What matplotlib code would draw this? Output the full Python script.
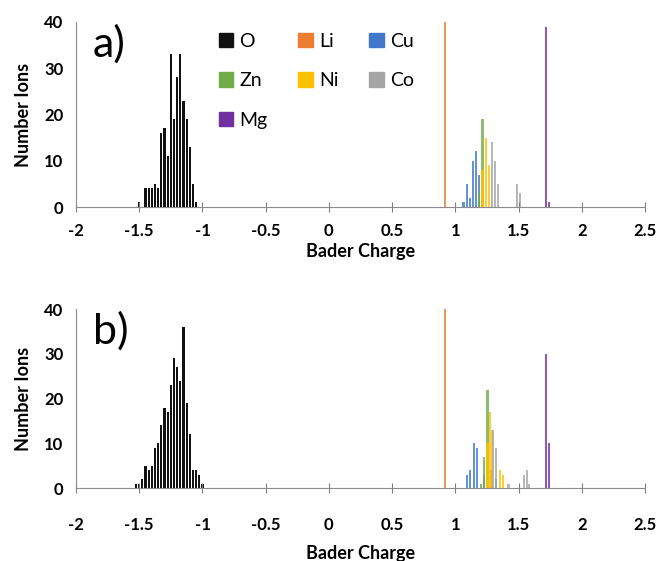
import matplotlib
matplotlib.use("Agg")
import matplotlib.pyplot as plt
from matplotlib.patches import Patch

plt.rcParams['font.family'] = ['Lato', 'DejaVu Sans']

colors = {
    'O': '#111111', 'Li': '#ED7D31', 'Cu': '#3F78CC', 'Zn': '#70AD47',
    'Ni': '#FFC000', 'Co': '#A5A5A5', 'Mg': '#7030A0',
}

# (a) Bader charge histograms, bin centre -> number of ions
a_O_x = [-1.5, -1.45, -1.425, -1.4, -1.375, -1.35, -1.325, -1.3, -1.275, -1.25,
         -1.225, -1.2, -1.175, -1.15, -1.125, -1.1, -1.075, -1.05]
a_O_n = [1, 4, 4, 4, 5, 4, 16, 17, 11, 33, 19, 28, 33, 23, 19, 13, 5, 1]
a_Li_x = [0.92]
a_Li_n = [40]
a_Cu_x = [1.065, 1.09, 1.115, 1.14, 1.165, 1.19]
a_Cu_n = [1, 5, 2, 10, 12, 7]
a_Zn_x = [1.19, 1.215]
a_Zn_n = [3, 19]
a_Ni_x = [1.215, 1.24, 1.265]
a_Ni_n = [8, 15, 9]
a_Co_x = [1.29, 1.315, 1.34, 1.49, 1.51]
a_Co_n = [14, 10, 5, 5, 3]
a_Mg_x = [1.715, 1.74]
a_Mg_n = [39, 1]

# (b)
b_O_x = [-1.525, -1.5, -1.475, -1.45, -1.425, -1.4, -1.375, -1.35, -1.325, -1.3, -1.275,
         -1.25, -1.225, -1.2, -1.175, -1.15, -1.125, -1.1, -1.075, -1.05, -1.025, -1.0]
b_O_n = [1, 1, 2, 5, 4, 5, 9, 10, 14, 18, 17, 23, 29, 27, 24, 36, 19, 12, 4, 4, 3, 1]
b_Li_x = [0.92]
b_Li_n = [40]
b_Cu_x = [1.09, 1.115, 1.145, 1.17, 1.23, 1.325]
b_Cu_n = [3, 4, 10, 9, 3, 2]
b_Zn_x = [1.205, 1.23, 1.255, 1.28]
b_Zn_n = [1, 7, 22, 4]
b_Ni_x = [1.255, 1.275, 1.29, 1.35, 1.375]
b_Ni_n = [10, 17, 13, 4, 3]
b_Co_x = [1.3, 1.325, 1.42, 1.545, 1.57, 1.58]
b_Co_n = [13, 9, 1, 3, 4, 1]
b_Mg_x = [1.715, 1.74]
b_Mg_n = [30, 10]

panel_a = {'O': (a_O_x, a_O_n), 'Li': (a_Li_x, a_Li_n), 'Cu': (a_Cu_x, a_Cu_n),
           'Zn': (a_Zn_x, a_Zn_n), 'Ni': (a_Ni_x, a_Ni_n), 'Co': (a_Co_x, a_Co_n),
           'Mg': (a_Mg_x, a_Mg_n)}
panel_b = {'O': (b_O_x, b_O_n), 'Li': (b_Li_x, b_Li_n), 'Cu': (b_Cu_x, b_Cu_n),
           'Zn': (b_Zn_x, b_Zn_n), 'Ni': (b_Ni_x, b_Ni_n), 'Co': (b_Co_x, b_Co_n),
           'Mg': (b_Mg_x, b_Mg_n)}

xticks = [-2, -1.5, -1, -0.5, 0, 0.5, 1, 1.5, 2, 2.5]
xticklabels = ['-2', '-1.5', '-1', '-0.5', '0', '0.5', '1', '1.5', '2', '2.5']

fig = plt.figure(figsize=(6.65, 5.61), dpi=100)
ax_a = fig.add_axes([0.1143, 0.631, 0.8556, 0.33])
ax_b = fig.add_axes([0.1143, 0.130, 0.8556, 0.319])

# tick-label pad and axis-label pad differ a little between the two panels
for ax, data, tag, tpad, lpad in [(ax_a, panel_a, 'a)', 8, 3), (ax_b, panel_b, 'b)', 17, 9)]:
    for sp, (xs, ns) in data.items():
        alpha = 1.0 if sp == 'O' else 0.8
        ax.bar(xs, ns, width=0.017, color=colors[sp], alpha=alpha, linewidth=0)
    ax.set_xlim(-2, 2.5)
    ax.set_ylim(0, 40)
    ax.set_xticks(xticks)
    ax.set_xticklabels(xticklabels, fontsize=12, fontweight='bold')
    ax.set_yticks([0, 10, 20, 30, 40])
    ax.set_yticklabels(['0', '10', '20', '30', '40'], fontsize=12, fontweight='bold')
    ax.tick_params(axis='x', direction='inout', length=7, color='#7f7f7f', pad=tpad)
    ax.tick_params(axis='y', length=0, pad=9)
    for s in ['top', 'right']:
        ax.spines[s].set_visible(False)
    for s in ['left', 'bottom']:
        ax.spines[s].set_color('#8c8c8c')
    ax.set_xlabel('Bader Charge', fontsize=13, fontweight='bold', labelpad=lpad)
    ax.set_ylabel('Number Ions', fontsize=13, fontweight='bold', labelpad=9)
    ax.text(0.03, 0.985, tag, transform=ax.transAxes, fontsize=31, va='top', ha='left')

order = ['O', 'Zn', 'Mg', 'Li', 'Ni', 'Cu', 'Co']
handles = [Patch(color=colors[k], label=k) for k in order]
ax_a.legend(handles=handles, ncol=3, loc='upper left', bbox_to_anchor=(0.22, 1.035),
            frameon=False, fontsize=14, handlelength=0.75, handleheight=0.75,
            handletextpad=0.3, labelspacing=1.15, columnspacing=1.6)

fig.savefig('out.png', dpi=100)
